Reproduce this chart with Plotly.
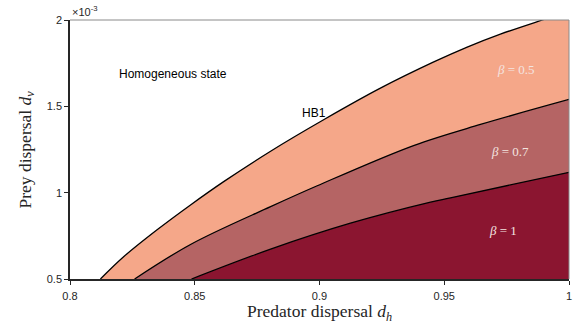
import plotly.graph_objects as go

# HB1 boundary (upper edge of the beta = 0.5 region)
dh_hb1 = [0.8122, 0.8216, 0.8349, 0.8483, 0.8616, 0.8804, 0.9020, 0.9244, 0.9458, 0.9592, 0.9725, 0.9893, 1.0]
dv_hb1 = [0.50, 0.63, 0.785, 0.929, 1.064, 1.240, 1.425, 1.605, 1.757, 1.843, 1.918, 2.00, 2.05]

# beta = 0.7 boundary
dh_b07 = [0.8259, 0.8483, 0.8804, 0.8991, 0.9377, 0.9645, 1.0]
dv_b07 = [0.50, 0.70, 0.919, 1.040, 1.273, 1.395, 1.54]

# beta = 1 boundary
dh_b1 = [0.8487, 0.8804, 0.9124, 0.9445, 0.9525, 1.0]
dv_b1 = [0.50, 0.673, 0.823, 0.945, 0.97, 1.118]

x_ticks = [0.8, 0.85, 0.9, 0.95, 1.0]
x_tick_text = ["0.8", "0.85", "0.9", "0.95", "1"]
y_ticks = [0.5, 1.0, 1.5, 2.0]
y_tick_text = ["0.5", "1", "1.5", "2"]

c_05 = "#F5A789"
c_07 = "#B56464"
c_1 = "#8B1530"

fig = go.Figure()

for xs, ys, col in [(dh_hb1, dv_hb1, c_05), (dh_b07, dv_b07, c_07), (dh_b1, dv_b1, c_1)]:
    fig.add_trace(go.Scatter(x=xs, y=ys, mode="lines", fill="tozeroy", fillcolor=col,
                             line=dict(color="black", width=1.3, shape="spline", smoothing=1.0),
                             hoverinfo="skip", showlegend=False))

tickfont = dict(family="Liberation Sans, Arial", size=11, color="#262626")
serif = "Liberation Serif, DejaVu Serif, serif"
label_col = "#F4E4E0"

fig.update_layout(
    width=581, height=323,
    margin=dict(l=70, r=12, t=20, b=44, autoexpand=False),
    paper_bgcolor="white", plot_bgcolor="white",
    xaxis=dict(range=[0.8, 1.0], tickvals=x_ticks, ticktext=x_tick_text, ticks="outside", ticklen=4,
               tickcolor="#262626", showline=True, linecolor="#262626", linewidth=1.5, showgrid=False,
               zeroline=False, tickfont=tickfont, automargin=False, ticklabelstandoff=2),
    yaxis=dict(range=[0.5, 2.0], tickvals=y_ticks, ticktext=y_tick_text, ticks="outside", ticklen=4,
               tickcolor="#262626", showline=True, linecolor="#262626", linewidth=1.5, showgrid=False,
               zeroline=False, tickfont=tickfont, automargin=False),
    shapes=[
        dict(type="line", xref="paper", yref="paper", x0=0, x1=1, y0=1, y1=1, line=dict(color="#8a8a8a", width=1)),
        dict(type="line", xref="paper", yref="paper", x0=1, x1=1, y0=0, y1=1, line=dict(color="#8a8a8a", width=1)),
    ],
    annotations=[
        dict(text="Predator dispersal <i>d</i><sub><i>h</i></sub>", xref="paper", yref="paper", x=0.5, y=0,
             xanchor="center", yanchor="middle", yshift=-33, showarrow=False, borderpad=0,
             font=dict(family=serif, size=17.5, color="#262626")),
        dict(text="Prey dispersal <i>d</i><sub><i>v</i></sub>", xref="paper", yref="paper", x=0, y=0.5,
             xanchor="center", yanchor="middle", xshift=-44, textangle=-90, showarrow=False, borderpad=0,
             font=dict(family=serif, size=17.5, color="#262626")),
        dict(text="×10<sup>-3</sup>", xref="paper", yref="paper", x=0.0, y=1.0, xanchor="left", yanchor="bottom",
             showarrow=False, font=dict(family="Liberation Sans, Arial", size=11, color="#262626"), yshift=0),
        dict(text="Homogeneous state", x=0.8413, y=1.69, showarrow=False,
             font=dict(family="Liberation Sans, Arial", size=12, color="black")),
        dict(text="HB1", x=0.8976, y=1.46, showarrow=False,
             font=dict(family="Liberation Sans, Arial", size=12, color="black")),
        dict(text="<i>β</i> = 0.5", x=0.9788, y=1.711, showarrow=False,
             font=dict(family=serif, size=13, color=label_col)),
        dict(text="<i>β</i> = 0.7", x=0.9764, y=1.241, showarrow=False,
             font=dict(family=serif, size=13, color=label_col)),
        dict(text="<i>β</i> = 1", x=0.9735, y=0.779, showarrow=False,
             font=dict(family=serif, size=13, color=label_col)),
    ],
)

fig.write_html("out.html", config={"displayModeBar": False},
               post_script="document.body.style.margin='0px';")
